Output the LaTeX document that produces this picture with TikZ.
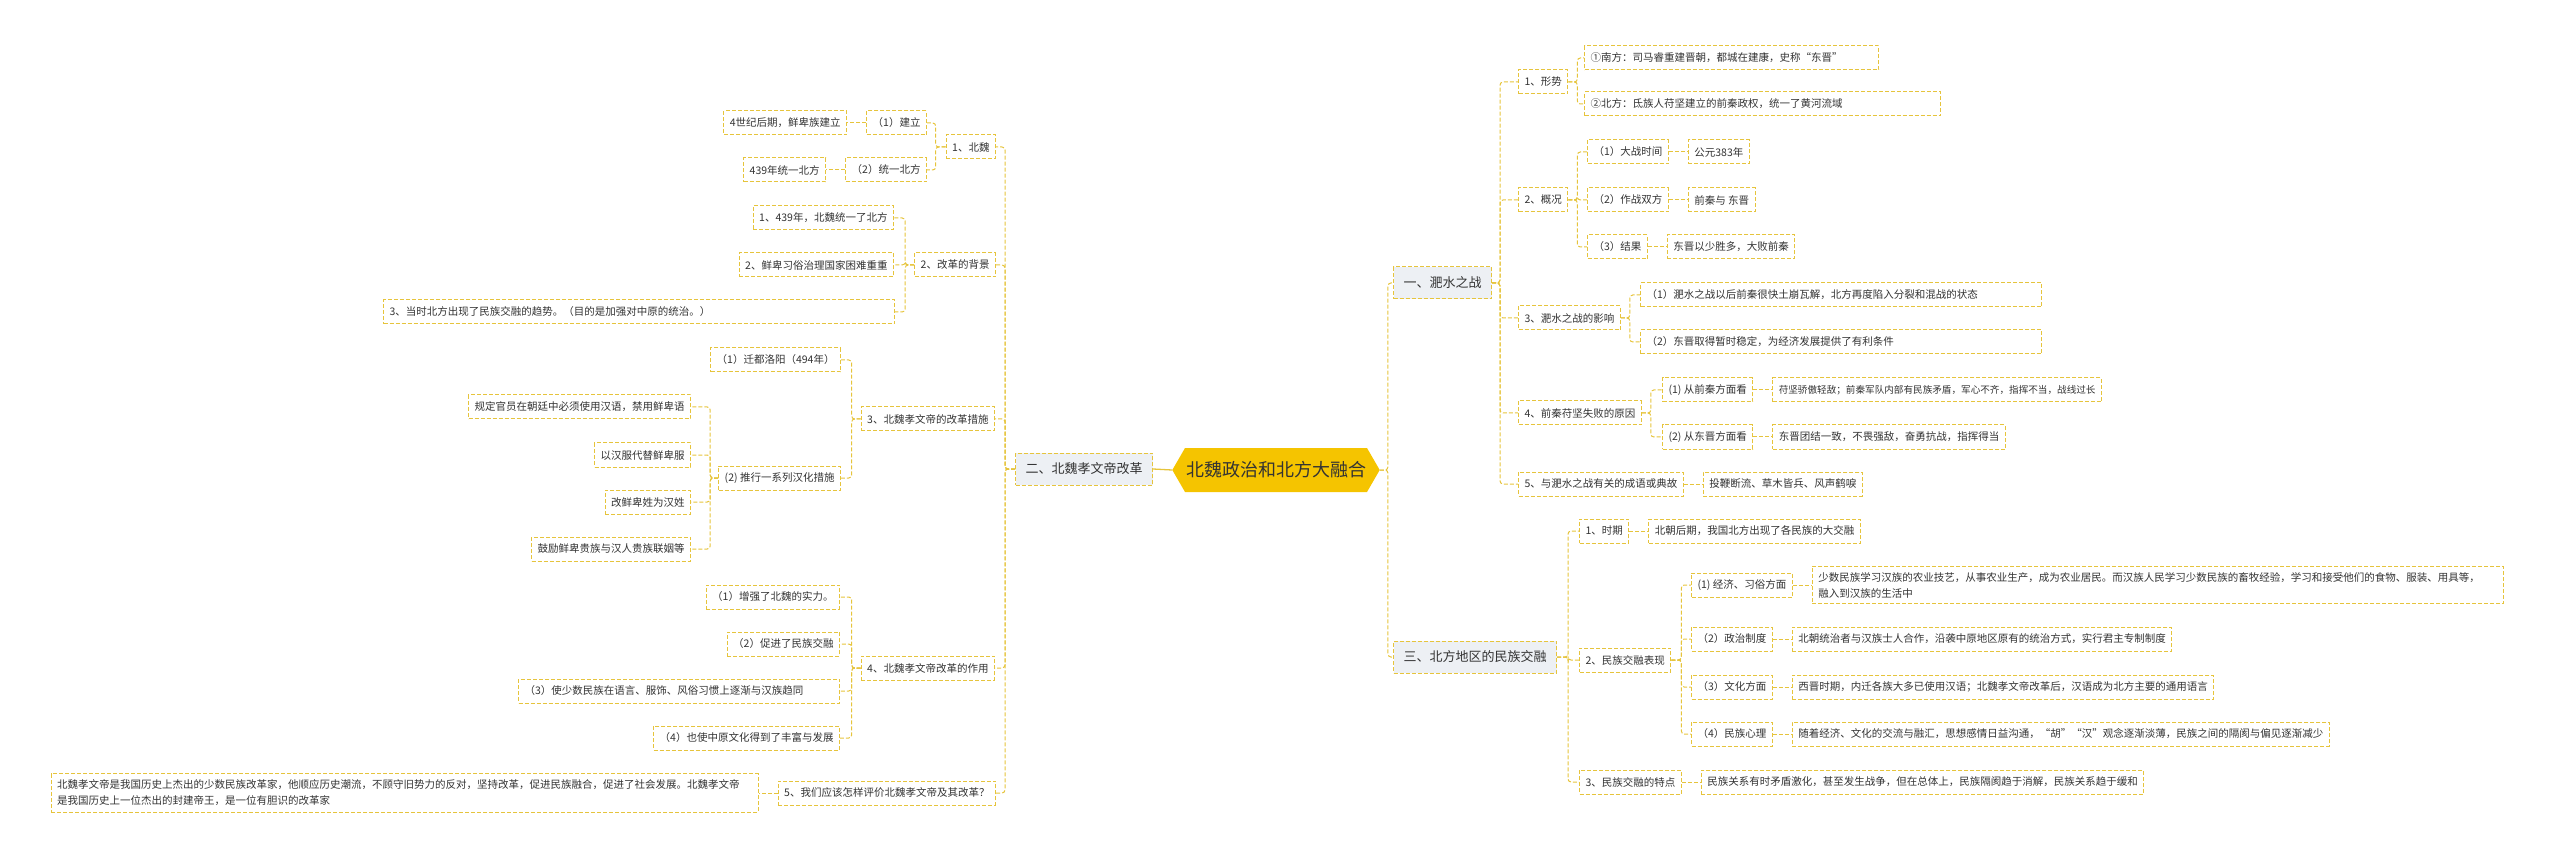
\documentclass[tikz,border=0pt]{standalone}
\usepackage{fontspec}
\setmainfont{Noto Sans CJK SC}
\usetikzlibrary{positioning,shapes.symbols}
\definecolor{linegold}{HTML}{E6C43C}
\definecolor{topicgold}{HTML}{F5C400}
\definecolor{branchgray}{HTML}{EDF0F4}
\definecolor{inkgray}{HTML}{333333}

\begin{document}
\begin{tikzpicture}[
  x=1pt,
  y=-1pt,
  node distance=19pt,
  topic/.style={
    signal,
    signal to=east and west,
    signal pointer angle=120,
    fill=topicgold,
    text=inkgray,
    font=\fontsize{18}{20}\selectfont,
    minimum height=44pt,
    inner xsep=1pt
  },
  branch/.style={
    draw=linegold,
    dash pattern=on 4pt off 2pt,
    line width=1pt,
    fill=branchgray,
    text=inkgray,
    font=\fontsize{13}{15}\selectfont,
    minimum height=32pt,
    inner xsep=10pt
  },
  leaf/.style={
    draw=linegold,
    dash pattern=on 4pt off 2pt,
    line width=1pt,
    fill=white,
    text=inkgray,
    font=\fontsize{10.5}{16}\selectfont,
    minimum height=24pt,
    inner xsep=6pt,
    inner ysep=3pt
  },
  wrap/.style={text width=#1, align=left},
  link/.style={draw=linegold, dash pattern=on 4pt off 2pt, line width=1pt, rounded corners=3pt},
  stem/.style={draw=linegold, line width=1.3pt}
]
  \useasboundingbox (0,0) rectangle (2560,858);

  % centre and main branches
  \node[topic] (topic) at (1276,470) {北魏政治和北方大融合};
  \node[branch, anchor=east] (reform) at (1153,469) {二、北魏孝文帝改革};
  \node[branch, anchor=west] (battle) at (1393,283) {一、淝水之战};
  \node[branch, anchor=west] (fusion) at (1393,657) {三、北方地区的民族交融};

  % left side
  \node[leaf, anchor=east] (r1) at (996,147) {1、北魏};
  \node[leaf, anchor=east] (r1a) at (927,123) {（1）建立};
  \node[leaf, left=of r1a] (r1ax) {4世纪后期，鲜卑族建立};
  \node[leaf, anchor=east] (r1b) at (927,170) {（2）统一北方};
  \node[leaf, left=of r1b] (r1bx) {439年统一北方};

  \node[leaf, anchor=east] (r2) at (996,265) {2、改革的背景};
  \node[leaf, anchor=east] (r2a) at (894,218) {1、439年，北魏统一了北方};
  \node[leaf, anchor=east] (r2b) at (894,265) {2、鲜卑习俗治理国家困难重重};
  \node[leaf, wrap=499pt, anchor=east] (r2c) at (895,312) {3、当时北方出现了民族交融的趋势。（目的是加强对中原的统治。）};

  \node[leaf, anchor=east] (r3) at (995,419) {3、北魏孝文帝的改革措施};
  \node[leaf, anchor=east] (r3a) at (841,360) {（1）迁都洛阳（494年）};
  \node[leaf, anchor=east] (r3b) at (841,478) {(2) 推行一系列汉化措施};
  \node[leaf, anchor=east] (r3b1) at (691,407) {规定官员在朝廷中必须使用汉语，禁用鲜卑语};
  \node[leaf, anchor=east] (r3b2) at (691,455) {以汉服代替鲜卑服};
  \node[leaf, anchor=east] (r3b3) at (691,502) {改鲜卑姓为汉姓};
  \node[leaf, anchor=east] (r3b4) at (691,549) {鼓励鲜卑贵族与汉人贵族联姻等};

  \node[leaf, anchor=east] (r4) at (995,668) {4、北魏孝文帝改革的作用};
  \node[leaf, anchor=east] (r4a) at (840,597) {（1）增强了北魏的实力。};
  \node[leaf, anchor=east] (r4b) at (840,644) {（2）促进了民族交融};
  \node[leaf, wrap=309pt, anchor=east] (r4c) at (840,691) {（3）使少数民族在语言、服饰、风俗习惯上逐渐与汉族趋同};
  \node[leaf, anchor=east] (r4d) at (840,738) {（4）也使中原文化得到了丰富与发展};

  \node[leaf, anchor=east] (r5) at (996,793) {5、我们应该怎样评价北魏孝文帝及其改革？};
  \node[leaf, wrap=695pt, inner ysep=6pt, left=of r5] (r5x) {北魏孝文帝是我国历史上杰出的少数民族改革家，他顺应历史潮流，不顾守旧势力的反对，坚持改革，促进民族融合，促进了社会发展。北魏孝文帝\\是我国历史上一位杰出的封建帝王，是一位有胆识的改革家};

  % right side, battle
  \node[leaf, anchor=west] (b1) at (1518,82) {1、形势};
  \node[leaf, wrap=282pt, anchor=west] (b1a) at (1584,58) {①南方：司马睿重建晋朝，都城在建康，史称“东晋”};
  \node[leaf, wrap=344pt, anchor=west] (b1b) at (1584,104) {②北方：氐族人苻坚建立的前秦政权，统一了黄河流域};

  \node[leaf, anchor=west] (b2) at (1518,200) {2、概况};
  \node[leaf, anchor=west] (b2a) at (1587,152) {（1）大战时间};
  \node[leaf, right=of b2a] (b2ax) {公元383年};
  \node[leaf, anchor=west] (b2b) at (1587,200) {（2）作战双方};
  \node[leaf, right=of b2b] (b2bx) {前秦与 东晋};
  \node[leaf, anchor=west] (b2c) at (1587,247) {（3）结果};
  \node[leaf, right=of b2c] (b2cx) {东晋以少胜多，大败前秦};

  \node[leaf, anchor=west] (b3) at (1518,318) {3、淝水之战的影响};
  \node[leaf, wrap=389pt, anchor=west] (b3a) at (1640,295) {（1）淝水之战以后前秦很快土崩瓦解，北方再度陷入分裂和混战的状态};
  \node[leaf, wrap=389pt, anchor=west] (b3b) at (1640,342) {（2）东晋取得暂时稳定，为经济发展提供了有利条件};

  \node[leaf, anchor=west] (b4) at (1518,413) {4、前秦苻坚失败的原因};
  \node[leaf, anchor=west] (b4a) at (1662,390) {(1) 从前秦方面看};
  \node[leaf, right=of b4a, font=\fontsize{9.6}{16}\selectfont] (b4ax) {苻坚骄傲轻敌；前秦军队内部有民族矛盾，军心不齐，指挥不当，战线过长};
  \node[leaf, anchor=west] (b4b) at (1662,437) {(2) 从东晋方面看};
  \node[leaf, right=of b4b] (b4bx) {东晋团结一致，不畏强敌，奋勇抗战，指挥得当};

  \node[leaf, anchor=west] (b5) at (1518,484) {5、与淝水之战有关的成语或典故};
  \node[leaf, right=of b5] (b5x) {投鞭断流、草木皆兵、风声鹤唳};

  % right side, fusion
  \node[leaf, anchor=west] (f1) at (1579,531) {1、时期};
  \node[leaf, right=of f1] (f1x) {北朝后期，我国北方出现了各民族的大交融};

  \node[leaf, anchor=west] (f2) at (1579,660) {2、民族交融表现};
  \node[leaf, anchor=west] (f2a) at (1691,585) {(1) 经济、习俗方面};
  \node[leaf, wrap=679pt, inner ysep=6pt, right=of f2a] (f2ax) {少数民族学习汉族的农业技艺，从事农业生产，成为农业居民。而汉族人民学习少数民族的畜牧经验，学习和接受他们的食物、服装、用具等，\\融入到汉族的生活中};
  \node[leaf, anchor=west] (f2b) at (1691,639) {（2）政治制度};
  \node[leaf, right=of f2b] (f2bx) {北朝统治者与汉族士人合作，沿袭中原地区原有的统治方式，实行君主专制制度};
  \node[leaf, anchor=west] (f2c) at (1691,687) {（3）文化方面};
  \node[leaf, right=of f2c] (f2cx) {西晋时期，内迁各族大多已使用汉语；北魏孝文帝改革后，汉语成为北方主要的通用语言};
  \node[leaf, anchor=west] (f2d) at (1691,734) {（4）民族心理};
  \node[leaf, right=of f2d] (f2dx) {随着经济、文化的交流与融汇，思想感情日益沟通，“胡”“汉”观念逐渐淡薄，民族之间的隔阂与偏见逐渐减少};

  \node[leaf, anchor=west] (f3) at (1579,782) {3、民族交融的特点};
  \node[leaf, right=of f3] (f3x) {民族关系有时矛盾激化，甚至发生战争，但在总体上，民族隔阂趋于消解，民族关系趋于缓和};

  % connectors
  \draw[stem] (reform.east) -- (topic.west);
  \draw[link] (topic.east) -- ++(8,0) |- (battle.west);
  \draw[link] (topic.east) -- ++(8,0) |- (fusion.west);

  \draw[link] (reform.west) -- ++(-10,0) |- (r1.east);
  \draw[link] (reform.west) -- ++(-10,0) |- (r2.east);
  \draw[link] (reform.west) -- ++(-10,0) |- (r3.east);
  \draw[link] (reform.west) -- ++(-10,0) |- (r4.east);
  \draw[link] (reform.west) -- ++(-10,0) |- (r5.east);

  \draw[link] (r1.west) -- ++(-10,0) |- (r1a.east);
  \draw[link] (r1.west) -- ++(-10,0) |- (r1b.east);
  \draw[link] (r1a.west) -- (r1ax.east);
  \draw[link] (r1b.west) -- (r1bx.east);

  \draw[link] (r2.west) -- ++(-9,0) |- (r2a.east);
  \draw[link] (r2.west) -- ++(-9,0) |- (r2b.east);
  \draw[link] (r2.west) -- ++(-9,0) |- (r2c.east);

  \draw[link] (r3.west) -- ++(-9,0) |- (r3a.east);
  \draw[link] (r3.west) -- ++(-9,0) |- (r3b.east);
  \draw[link] (r3b.west) -- ++(-8,0) |- (r3b1.east);
  \draw[link] (r3b.west) -- ++(-8,0) |- (r3b2.east);
  \draw[link] (r3b.west) -- ++(-8,0) |- (r3b3.east);
  \draw[link] (r3b.west) -- ++(-8,0) |- (r3b4.east);

  \draw[link] (r4.west) -- ++(-9,0) |- (r4a.east);
  \draw[link] (r4.west) -- ++(-9,0) |- (r4b.east);
  \draw[link] (r4.west) -- ++(-9,0) |- (r4c.east);
  \draw[link] (r4.west) -- ++(-9,0) |- (r4d.east);

  \draw[link] (r5.west) -- (r5x.east);

  \draw[link] (battle.east) -- ++(8,0) |- (b1.west);
  \draw[link] (battle.east) -- ++(8,0) |- (b2.west);
  \draw[link] (battle.east) -- ++(8,0) |- (b3.west);
  \draw[link] (battle.east) -- ++(8,0) |- (b4.west);
  \draw[link] (battle.east) -- ++(8,0) |- (b5.west);

  \draw[link] (b1.east) -- ++(9,0) |- (b1a.west);
  \draw[link] (b1.east) -- ++(9,0) |- (b1b.west);

  \draw[link] (b2.east) -- ++(9,0) |- (b2a.west);
  \draw[link] (b2.east) -- ++(9,0) |- (b2b.west);
  \draw[link] (b2.east) -- ++(9,0) |- (b2c.west);
  \draw[link] (b2a.east) -- (b2ax.west);
  \draw[link] (b2b.east) -- (b2bx.west);
  \draw[link] (b2c.east) -- (b2cx.west);

  \draw[link] (b3.east) -- ++(9,0) |- (b3a.west);
  \draw[link] (b3.east) -- ++(9,0) |- (b3b.west);

  \draw[link] (b4.east) -- ++(9,0) |- (b4a.west);
  \draw[link] (b4.east) -- ++(9,0) |- (b4b.west);
  \draw[link] (b4a.east) -- (b4ax.west);
  \draw[link] (b4b.east) -- (b4bx.west);

  \draw[link] (b5.east) -- (b5x.west);

  \draw[link] (fusion.east) -- ++(11,0) |- (f1.west);
  \draw[link] (fusion.east) -- ++(11,0) |- (f2.west);
  \draw[link] (fusion.east) -- ++(11,0) |- (f3.west);
  \draw[link] (f1.east) -- (f1x.west);

  \draw[link] (f2.east) -- ++(10,0) |- (f2a.west);
  \draw[link] (f2.east) -- ++(10,0) |- (f2b.west);
  \draw[link] (f2.east) -- ++(10,0) |- (f2c.west);
  \draw[link] (f2.east) -- ++(10,0) |- (f2d.west);
  \draw[link] (f2a.east) -- (f2ax.west);
  \draw[link] (f2b.east) -- (f2bx.west);
  \draw[link] (f2c.east) -- (f2cx.west);
  \draw[link] (f2d.east) -- (f2dx.west);

  \draw[link] (f3.east) -- (f3x.west);
\end{tikzpicture}
\end{document}
